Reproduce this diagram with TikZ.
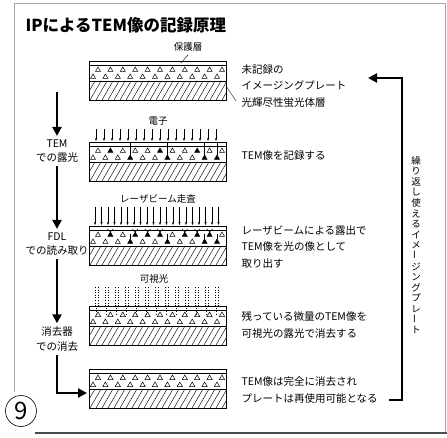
\documentclass[tikz,border=0pt]{standalone}
\usepackage{fontspec}
\setmainfont{Noto Sans CJK JP}
\usetikzlibrary{arrows.meta}

\begin{document}
\begin{tikzpicture}[x=1pt,y=-1pt,
    flow/.style={line width=2.6pt,-{Triangle[length=9pt,width=9pt]}},
    beam/.style={line width=0.35pt,-{Stealth[length=3pt,width=2.2pt]}},
    steplbl/.style={align=center,font=\fontsize{10.5}{14.5}\selectfont},
    note/.style={anchor=west,align=left,font=\fontsize{10.5}{16.5}\selectfont},
    small/.style={font=\fontsize{9.5}{11}\selectfont}]
  \useasboundingbox (0,0) rectangle (447,438);

  % frame
  \draw[gray!70,line width=0.7pt] (14,392) -- (14,3) -- (445,3) -- (445,433);
  \draw[gray!60!black,line width=1.6pt] (35,433) -- (447,433);
  \node[circle,draw,line width=0.6pt,minimum size=31pt,inner sep=0pt,
        font=\fontsize{24}{24}\selectfont] (num) at (21,411) {9};

  \node[anchor=west,font=\fontsize{16.5}{18}\selectfont\bfseries] (title) at (22,25)
    {IPによるTEM像の記録原理};

  % the five plates
  \foreach \t in {61,142,226,306,369} {
    \begin{scope}[shift={(0,\t)}]
      \draw (89,0) rectangle (226,39);
      \draw (89,4) -- (226,4);
      \draw (89,20) -- (226,20);
      \begin{scope}
        \clip (89,20) rectangle (226,39);
        \foreach \h in {78,84,...,230}
          \draw[line width=0.45pt] (\h,39) -- ++(11,-19);
      \end{scope}
      \foreach \i [evaluate=\i as \xa using 98+12.4*\i,
                   evaluate=\i as \xb using 93+12.4*\i] in {0,...,10} {
        \draw[line width=0.5pt] (\xa-2.6,10.5) -- ++(2.6,-4.5) -- ++(2.6,4.5) -- cycle;
        \draw[line width=0.5pt] (\xb-2.6,17.5) -- ++(2.6,-4.5) -- ++(2.6,4.5) -- cycle;
      }
    \end{scope}
  }

  % recorded plate: electron tracks end in filled grains
  \begin{scope}[shift={(0,142)}]
    \foreach \i in {1,5,8}
      \fill (98+12.4*\i-2.6,10.5) -- ++(2.6,-4.5) -- ++(2.6,4.5) -- cycle;
    \foreach \i in {3,6,9,10} {
      \fill (93+12.4*\i-2.6,17.5) -- ++(2.6,-4.5) -- ++(2.6,4.5) -- cycle;
      \draw[line width=0.4pt] (93+12.4*\i,0) -- (93+12.4*\i,13);
    }
  \end{scope}
  \foreach \x in {96,104,...,222}
    \draw[beam] (\x,129) -- (\x,141);

  % read-out plate: grains give off light
  \begin{scope}[shift={(0,226)}]
    \foreach \i in {1,3,4,5,7,8,9} {
      \fill (98+12.4*\i-2.6,10.5) -- ++(2.6,-4.5) -- ++(2.6,4.5) -- cycle;
      \draw[line width=0.5pt] (98+12.4*\i-2.8,3) -- (98+12.4*\i,6) -- (98+12.4*\i+2.8,3);
    }
    \foreach \i in {3,6,9,10} {
      \fill (93+12.4*\i-2.6,17.5) -- ++(2.6,-4.5) -- ++(2.6,4.5) -- cycle;
      \draw[line width=0.5pt] (93+12.4*\i,13) -- (93+12.4*\i,8);
    }
  \end{scope}
  \foreach \x in {95,101.5,...,223}
    \draw[beam] (\x,207) -- (\x,225);

  % erasing: visible light
  \foreach \x in {95,105,...,215} {
    \draw[dotted,line width=0.6pt] (\x,287) -- (\x,306);
    \draw[dotted,line width=0.6pt] (\x+3,287) -- (\x+3,306);
    \draw[dotted,line width=0.5pt] (\x+1.5,306) -- (\x+1.5,315);
  }

  % labels over the plates
  \node[small] (hogo) at (188,47) {保護層};
  \coordinate (hogoPt) at (181,63);
  \draw[line width=0.4pt] (hogo.south) -- (hogoPt);
  \node[small] (denshi) at (158,121) {電子};
  \node[small] (laser) at (158,199) {レーザビーム走査};
  \node[small] (kashi) at (154,279) {可視光};

  % notes on the right
  \node[note] (n1) at (238,86) {未記録の\\イメージングプレート\\光輝尽性蛍光体層};
  \coordinate (layerPt) at (226,86);
  \coordinate (layerEnd) at (236,101);
  \draw[line width=0.4pt] (layerPt) -- (layerEnd);
  \node[note] (n2) at (238,156) {TEM像を記録する};
  \node[note] (n3) at (238,247) {レーザビームによる露出で\\TEM像を光の像として\\取り出す};
  \node[note] (n4) at (238,325) {残っている微量のTEM像を\\可視光の露光で消去する};
  \node[note] (n5) at (238,390) {TEM像は完全に消去され\\プレートは再使用可能となる};

  % steps on the left
  \coordinate (start) at (57,92);
  \node[steplbl] (tem) at (57,151) {TEM\\での露光};
  \node[steplbl] (fdl) at (57,244) {FDL\\での読み取り};
  \node[steplbl] (era) at (57,339) {消去器\\での消去};
  \coordinate (corner) at (57,393);
  \coordinate (plate5) at (87,393);
  \draw[flow] (start) -- (tem.north);
  \draw[flow] (tem.south) -- (fdl.north);
  \draw[flow] (fdl.south) -- (era.north);
  \draw[flow] (era.south) -- (corner) -- (plate5);

  % back to the start
  \coordinate (rb) at (389,400);
  \coordinate (rc) at (402,400);
  \coordinate (rt) at (402,78);
  \coordinate (rend) at (368,78);
  \draw[flow] (rb) -- (rc) -- (rt) -- (rend);
  \node[align=center,font=\fontsize{9.5}{10.6}\selectfont] (again) at (416,245)
    {繰\\り\\返\\し\\使\\え\\る\\イ\\メ\\\rotatebox{90}{ー}\\ジ\\ン\\グ\\プ\\レ\\\rotatebox{90}{ー}\\ト};
\end{tikzpicture}
\end{document}
